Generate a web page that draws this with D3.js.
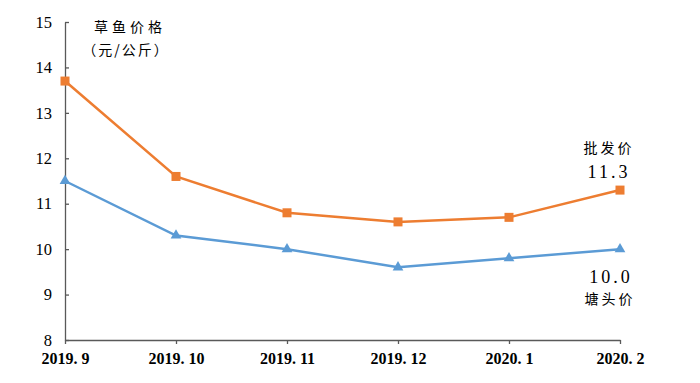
<!DOCTYPE html>
<html><head><meta charset="utf-8">
<script src="https://cdn.jsdelivr.net/npm/d3@7"></script>
<style>body{margin:0;background:#fff}svg{display:block}</style>
</head><body><svg id="c" width="700" height="383"></svg>
<script>
const categories = ["2019. 9","2019. 10","2019. 11","2019. 12","2020. 1","2020. 2"];
const wholesale = [13.7, 11.6, 10.8, 10.6, 10.7, 11.3];
const pond = [11.5, 10.3, 10.0, 9.6, 9.8, 10.0];
const yTicks = [8,9,10,11,12,13,14,15];

const svg = d3.select("#c");
const x = d3.scalePoint().domain(categories).range([65, 620]);
const y = d3.scaleLinear().domain([8, 15]).range([340, 22]);
const serif = "'Liberation Serif','DejaVu Serif',serif";
const cjk = "'Noto Sans CJK SC',sans-serif";

// y axis
const ya = svg.append("g").attr("transform","translate(65,0)")
  .call(d3.axisLeft(y).tickValues(yTicks).tickSizeInner(-4).tickSizeOuter(0).tickPadding(13).tickFormat(d3.format("d")));
ya.select(".domain").attr("stroke","#595959").attr("stroke-width",1.3);
ya.selectAll(".tick line").attr("stroke","#595959").attr("stroke-width",1.3);
ya.selectAll("text").attr("font-family",serif).attr("font-size",16.5).attr("fill","#000");

// x axis
const xa = svg.append("g").attr("transform","translate(0,340)")
  .call(d3.axisBottom(x).tickSizeInner(4).tickSizeOuter(0).tickPadding(9));
xa.select(".domain").attr("stroke","#595959").attr("stroke-width",1.3);
xa.selectAll(".tick line").attr("stroke","#595959").attr("stroke-width",1.3);
xa.selectAll("text").attr("font-family",serif).attr("font-size",16).attr("font-weight","bold").attr("fill","#000");

const line = d3.line().x((d,i)=>x(categories[i])).y(d=>y(d));
svg.append("path").datum(pond).attr("d",line).attr("fill","none").attr("stroke","#5B9BD5").attr("stroke-width",2.5);
svg.append("path").datum(wholesale).attr("d",line).attr("fill","none").attr("stroke","#ED7D31").attr("stroke-width",2.5);

svg.selectAll(".sq").data(wholesale).enter().append("rect")
  .attr("x",(d,i)=>x(categories[i])-4.5).attr("y",d=>y(d)-4.5)
  .attr("width",9).attr("height",9).attr("fill","#ED7D31");
const tri = d3.symbol().type(d3.symbolTriangle).size(50);
svg.selectAll(".tr").data(pond).enter().append("path")
  .attr("d",tri).attr("transform",(d,i)=>`translate(${x(categories[i])},${y(d)})`).attr("fill","#5B9BD5");

function txt(t, cx, cy, font, size, ls){
  svg.append("text").attr("x",cx).attr("y",cy).attr("text-anchor","middle")
    .attr("font-family",font).attr("font-size",size).attr("letter-spacing",ls||0)
    .attr("fill","#000").text(t);
}
txt("草鱼价格", 130, 32, cjk, 14, 4);
txt("（元/公斤）", 126, 55, cjk, 14, 2);
txt("批发价", 609, 153, cjk, 14, 3);
txt("11.3", 609, 178, serif, 18, 3);
txt("10.0", 611, 283, serif, 18, 3);
txt("塘头价", 610, 304, cjk, 14, 3);
</script></body></html>
